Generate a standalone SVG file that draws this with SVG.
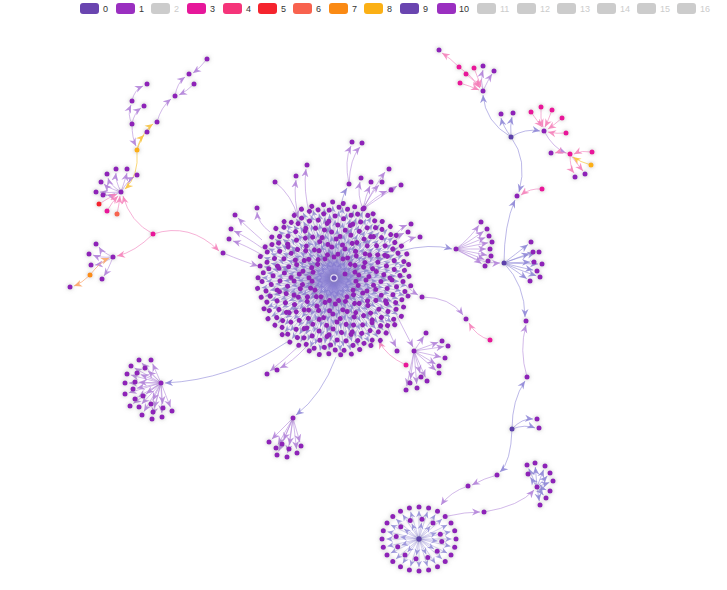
<svg xmlns="http://www.w3.org/2000/svg" xmlns:xlink="http://www.w3.org/1999/xlink" width="727" height="590" viewBox="0 0 727 590">
<style>
.e0{fill:none;stroke:#8f88d8;stroke-opacity:.6;stroke-width:1;marker-end:url(#a0)}
.e1{fill:none;stroke:#b48bdb;stroke-opacity:.6;stroke-width:1;marker-end:url(#a1)}
.ep{fill:none;stroke:#f290c4;stroke-opacity:.7;stroke-width:1;marker-end:url(#ap)}
.ey{fill:none;stroke:#f9cd55;stroke-opacity:.8;stroke-width:1;marker-end:url(#ay)}
.eo{fill:none;stroke:#fcb383;stroke-opacity:.8;stroke-width:1;marker-end:url(#ao)}
.es{fill:none;stroke:#8579d0;stroke-opacity:.5;stroke-width:.75;marker-end:url(#as)}
.nodes{filter:url(#glow)}
.n1{fill:#8e24b8}.n0{fill:#5d40aa}.n3{fill:#e8169a}.n5{fill:#f5222d}.n6{fill:#f7634e}.n7{fill:#fa8c16}.n8{fill:#fbaf17}
.lg text{font-family:"Liberation Sans",Arial,sans-serif;font-size:9px;fill:#333}
.lg text.off{fill:#ccc}
</style>
<defs>
<filter id="glow" x="-50%" y="-50%" width="200%" height="200%"><feDropShadow dx="0" dy="0" stdDeviation="2.2" flood-color="#8a8a8a" flood-opacity=".6"/></filter>
<marker id="a0" viewBox="-8 -4 9 8" refX="0" refY="0" markerWidth="9" markerHeight="8" orient="auto" markerUnits="userSpaceOnUse"><path d="M0,0L-8,-3.5L-5.5,0L-8,3.5Z" fill="#8c84d6" fill-opacity=".85"/></marker>
<marker id="a1" viewBox="-8 -4 9 8" refX="0" refY="0" markerWidth="9" markerHeight="8" orient="auto" markerUnits="userSpaceOnUse"><path d="M0,0L-8,-3.5L-5.5,0L-8,3.5Z" fill="#b07fd8" fill-opacity=".85"/></marker>
<marker id="ap" viewBox="-8 -4 9 8" refX="0" refY="0" markerWidth="9" markerHeight="8" orient="auto" markerUnits="userSpaceOnUse"><path d="M0,0L-8,-3.5L-5.5,0L-8,3.5Z" fill="#f47fb9" fill-opacity=".85"/></marker>
<marker id="ay" viewBox="-8 -4 9 8" refX="0" refY="0" markerWidth="9" markerHeight="8" orient="auto" markerUnits="userSpaceOnUse"><path d="M0,0L-8,-3.5L-5.5,0L-8,3.5Z" fill="#f8c441" fill-opacity=".9"/></marker>
<marker id="ao" viewBox="-8 -4 9 8" refX="0" refY="0" markerWidth="9" markerHeight="8" orient="auto" markerUnits="userSpaceOnUse"><path d="M0,0L-8,-3.5L-5.5,0L-8,3.5Z" fill="#fba86b" fill-opacity=".9"/></marker>
<marker id="as" viewBox="-7 -3.5 8 7" refX="0" refY="0" markerWidth="8" markerHeight="7" orient="auto" markerUnits="userSpaceOnUse"><path d="M0,0L-6.5,-2.9L-4.5,0L-6.5,2.9Z" fill="#8c84d6" fill-opacity=".8"/></marker>
<g id="wAe">
<path class="es" d="M0,0L17.9,1.9"/><path class="es" d="M0,0L28,1"/><path class="es" d="M0,0L35.6,5.7"/><path class="es" d="M0,0L42.9,2.3"/><path class="es" d="M0,0L49.3,8.7"/><path class="es" d="M0,0L54,0.9"/><path class="es" d="M0,0L58.5,7.2"/><path class="es" d="M0,0L65,2.3"/><path class="es" d="M0,0L66.9,11.8"/><path class="es" d="M0,0L72.7,6.4"/>
</g>
<g id="wBe">
<path class="es" d="M0,0L21,1.1"/><path class="es" d="M0,0L30.7,4.3"/><path class="es" d="M0,0L39,1.4"/><path class="es" d="M0,0L45.6,5.6"/><path class="es" d="M0,0L51.1,9.9"/><path class="es" d="M0,0L56.9,3"/><path class="es" d="M0,0L61.2,9.7"/><path class="es" d="M0,0L66.7,5.9"/><path class="es" d="M0,0L72,1.2"/><path class="es" d="M0,0L70,12.3"/>
</g>
<g id="wAn" class="n1">
<circle cx="21.9" cy="2.3" r="2.5"/><circle cx="32" cy="1.1" r="2.5"/><circle cx="39.5" cy="6.3" r="2.5"/><circle cx="46.9" cy="2.5" r="2.5"/><circle cx="53.2" cy="9.4" r="2.5"/><circle cx="58" cy="1" r="2.5"/><circle cx="62.5" cy="7.7" r="2.5"/><circle cx="69" cy="2.4" r="2.5"/><circle cx="70.9" cy="12.5" r="2.5"/><circle cx="76.7" cy="6.7" r="2.5"/>
</g>
<g id="wBn" class="n1">
<circle cx="25" cy="1.3" r="2.5"/><circle cx="34.7" cy="4.9" r="2.5"/><circle cx="43" cy="1.5" r="2.5"/><circle cx="49.6" cy="6.1" r="2.5"/><circle cx="55" cy="10.7" r="2.5"/><circle cx="60.9" cy="3.2" r="2.5"/><circle cx="65.2" cy="10.3" r="2.5"/><circle cx="70.7" cy="6.2" r="2.5"/><circle cx="76" cy="1.3" r="2.5"/><circle cx="73.9" cy="13" r="2.5"/>
</g>
</defs>

<rect width="727" height="590" fill="#ffffff"/>

<g id="legend" class="lg">
<rect x="80" y="3" width="19" height="11" rx="3" fill="#6a45b0"/><text x="103" y="12">0</text>
<rect x="116" y="3" width="19" height="11" rx="3" fill="#9a2fc0"/><text x="139" y="12">1</text>
<rect x="151" y="3" width="19" height="11" rx="3" fill="#cccccc"/><text class="off" x="174" y="12">2</text>
<rect x="187" y="3" width="19" height="11" rx="3" fill="#e6179a"/><text x="210" y="12">3</text>
<rect x="223" y="3" width="19" height="11" rx="3" fill="#f5347a"/><text x="246" y="12">4</text>
<rect x="258" y="3" width="19" height="11" rx="3" fill="#f5242e"/><text x="281" y="12">5</text>
<rect x="293" y="3" width="19" height="11" rx="3" fill="#f8624e"/><text x="316" y="12">6</text>
<rect x="329" y="3" width="19" height="11" rx="3" fill="#fa8a14"/><text x="352" y="12">7</text>
<rect x="364" y="3" width="19" height="11" rx="3" fill="#fbb015"/><text x="387" y="12">8</text>
<rect x="400" y="3" width="19" height="11" rx="3" fill="#6a45b0"/><text x="423" y="12">9</text>
<rect x="437" y="3" width="19" height="11" rx="3" fill="#9a2fc0"/><text x="459" y="12">10</text>
<rect x="477" y="3" width="19" height="11" rx="3" fill="#cccccc"/><text class="off" x="500" y="12">11</text>
<rect x="517" y="3" width="19" height="11" rx="3" fill="#cccccc"/><text class="off" x="540" y="12">12</text>
<rect x="557" y="3" width="19" height="11" rx="3" fill="#cccccc"/><text class="off" x="580" y="12">13</text>
<rect x="597" y="3" width="19" height="11" rx="3" fill="#cccccc"/><text class="off" x="620" y="12">14</text>
<rect x="637" y="3" width="19" height="11" rx="3" fill="#cccccc"/><text class="off" x="660" y="12">15</text>
<rect x="677" y="3" width="19" height="11" rx="3" fill="#cccccc"/><text class="off" x="700" y="12">16</text>
</g>

<g id="connectors">
<g transform="translate(334,279)">
<use href="#wAe"/><use href="#wAe" transform="rotate(24)"/><use href="#wAe" transform="rotate(48)"/><use href="#wAe" transform="rotate(72)"/><use href="#wAe" transform="rotate(96)"/><use href="#wAe" transform="rotate(120)"/><use href="#wAe" transform="rotate(144)"/><use href="#wAe" transform="rotate(168)"/><use href="#wAe" transform="rotate(192)"/><use href="#wAe" transform="rotate(216)"/><use href="#wAe" transform="rotate(240)"/><use href="#wAe" transform="rotate(264)"/><use href="#wAe" transform="rotate(288)"/><use href="#wAe" transform="rotate(312)"/><use href="#wAe" transform="rotate(336)"/>
<use href="#wBe" transform="rotate(12)"/><use href="#wBe" transform="rotate(36)"/><use href="#wBe" transform="rotate(60)"/><use href="#wBe" transform="rotate(84)"/><use href="#wBe" transform="rotate(108)"/><use href="#wBe" transform="rotate(132)"/><use href="#wBe" transform="rotate(156)"/><use href="#wBe" transform="rotate(180)"/><use href="#wBe" transform="rotate(204)"/><use href="#wBe" transform="rotate(228)"/><use href="#wBe" transform="rotate(252)"/><use href="#wBe" transform="rotate(276)"/><use href="#wBe" transform="rotate(300)"/><use href="#wBe" transform="rotate(324)"/><use href="#wBe" transform="rotate(348)"/>
</g>
<path class="e1" d="M207,59 Q200,68 193,73"/>
<path class="e1" d="M175,96 Q177,83 185,77"/>
<path class="e1" d="M194,84 Q187,91 179,95"/>
<path class="e1" d="M157,122 Q161,107 171,99"/>
<path class="e1" d="M132,101 Q134,90 143,86"/>
<path class="e1" d="M132,124 Q127,114 131,105"/>
<path class="e1" d="M132,124 Q134,113 141,108"/>
<path class="ey" d="M137,150 Q143,131 153,124"/>
<path class="e1" d="M132,124 Q132,138 136,146"/>
<path class="ey" d="M137,150 Q139,140 144,135"/>
<path class="ey" d="M137,151 Q139,176 125,189"/>
<path class="e1" d="M121,192 Q110,185 108,178"/>
<path class="e1" d="M121,192 Q115,180 116,173"/>
<path class="e1" d="M121,192 Q125,180 127,173"/>
<path class="e1" d="M121,192 Q108,188 104,184"/>
<path class="e1" d="M121,192 Q108,193 100,192"/>
<path class="e1" d="M121,192 Q112,196 107,195"/>
<path class="e1" d="M121,192 Q128,180 134,177"/>
<path class="ep" d="M99,204 Q108,198 117,194"/>
<path class="ep" d="M107,211 Q112,202 118,196"/>
<path class="ep" d="M117,214 Q119,205 120,196"/>
<path class="ep" d="M153,234 Q130,222 123,196"/>
<path class="ep" d="M153,234 Q190,222 219,251"/>
<path class="e1" d="M223,253 Q245,262 258,266"/>
<path class="ep" d="M153,234 Q135,252 117,256"/>
<path class="e1" d="M113,257 Q102,252 99,247"/>
<path class="e1" d="M113,257 Q100,258 93,255"/>
<path class="e1" d="M113,257 Q102,264 95,265"/>
<path class="e1" d="M113,257 Q108,270 104,276"/>
<path class="eo" d="M90,275 Q100,262 109,258"/>
<path class="eo" d="M90,275 Q82,283 74,286"/>
<path class="e0" d="M287,342 Q230,380 165,383"/>
<path class="e1" d="M161,383L141.8,362.9"/><path class="e1" d="M161,383L152.6,363.7"/><path class="e1" d="M161,383L134.5,368"/><path class="e1" d="M161,383L147.9,370.7"/><path class="e1" d="M161,383L130.9,375"/><path class="e1" d="M161,383L140.7,374.5"/><path class="e1" d="M161,383L129,383"/><path class="e1" d="M161,383L139,382.2"/><path class="e1" d="M161,383L136.9,388.2"/><path class="e1" d="M161,383L128.8,392.8"/><path class="e1" d="M161,383L146.2,393.7"/><path class="e1" d="M161,383L138.4,396.9"/><path class="e1" d="M161,383L133.2,403.6"/><path class="e1" d="M161,383L152.7,400.4"/><path class="e1" d="M161,383L141.7,404.1"/><path class="e1" d="M161,383L162.7,404"/><path class="e1" d="M161,383L170.5,407.3"/><path class="e1" d="M161,383L144,411.6"/><path class="e1" d="M161,383L154.1,408.1"/><path class="e1" d="M161,383L161.9,413"/><path class="e1" d="M161,383L153,415.1"/>
<path class="e1" d="M300,345 Q284,360 270,371"/>
<path class="e1" d="M306,347 Q292,362 280,368"/>
<path class="e0" d="M336,357 Q322,395 296,415"/>
<path class="e1" d="M293,418L271.8,439.2"/><path class="e1" d="M293,418L278,444.5"/><path class="e1" d="M293,418L283.6,440.3"/><path class="e1" d="M293,418L278.6,451.3"/><path class="e1" d="M293,418L287.6,453"/><path class="e1" d="M293,418L289.5,445"/><path class="e1" d="M293,418L296.5,449"/><path class="e1" d="M293,418L299.9,442.2"/>
<path class="e1" d="M275,182 Q292,195 298,218"/>
<path class="e1" d="M300,222 Q293,200 296,180"/>
<path class="e1" d="M310,216 Q303,190 306,169"/>
<path class="e1" d="M270,232 Q258,223 257,212"/>
<path class="e1" d="M262,240 Q246,226 238,218"/>
<path class="e1" d="M262,248 Q245,236 234,231"/>
<path class="e1" d="M264,256 Q245,245 233,241"/>
<path class="e0" d="M340,212 Q342,196 347,188"/>
<path class="e1" d="M349,184 Q344,160 351,146"/>
<path class="e1" d="M349,184 Q350,158 360,147"/>
<path class="e1" d="M363,209 Q357,195 360,182"/>
<path class="e1" d="M363,209 Q366,195 370,186"/>
<path class="e1" d="M363,209 Q372,192 379,185"/>
<path class="e1" d="M363,209 Q376,184 385,172"/>
<path class="e1" d="M363,209 Q376,196 387,191"/>
<path class="e1" d="M363,209 Q385,194 397,186"/>
<path class="e1" d="M393,238 Q400,228 407,225"/>
<path class="e1" d="M392,245 Q398,236 404,233"/>
<path class="e1" d="M395,250 Q406,240 416,237"/>
<path class="e0" d="M400,251 Q430,243 452,249"/>
<path class="e1" d="M456,249 Q470,238.2 478.8,225.3"/>
<path class="e1" d="M456,249 Q470,241 483.7,231.3"/>
<path class="e1" d="M456,249 Q470,243.8 485.3,237.5"/>
<path class="e1" d="M456,249 Q470,246.2 488.1,242.8"/>
<path class="e1" d="M456,249 Q470,249 486,249"/>
<path class="e1" d="M456,249 Q470,251.8 487.1,255.2"/>
<path class="e1" d="M456,249 Q470,253.8 484.3,259.5"/>
<path class="e1" d="M456,249 Q470,255.8 481.7,263.7"/>
<path class="e1" d="M457,250 Q480,264 500,263"/>
<path class="e0" d="M504,263 Q515,254.6 527.9,244.5"/>
<path class="e0" d="M504,263 Q515,258.6 535.1,253.1"/>
<path class="e0" d="M504,263 Q515,258.6 529.3,253.4"/>
<path class="e0" d="M504,263 Q515,262.6 530,262.1"/>
<path class="e0" d="M504,263 Q515,263.4 538,264"/>
<path class="e0" d="M504,263 Q515,266.2 533.1,270.1"/>
<path class="e0" d="M504,263 Q515,268.6 536.2,275.7"/>
<path class="e0" d="M504,263 Q515,270.2 526.8,278.7"/>
<path class="e0" d="M504,263 Q504,225 515,200"/>
<path class="ep" d="M542,189 Q530,188 521,195"/>
<path class="e0" d="M511,137 Q528,160 519,192"/>
<path class="e0" d="M504,263 Q525,285 525,317"/>
<path class="e1" d="M527,377 Q519,350 526,325"/>
<path class="e0" d="M512,429 Q512,400 525,381"/>
<path class="e0" d="M512,429 Q522,418 533,419"/>
<path class="e0" d="M512,429 Q525,424 535,428"/>
<path class="e0" d="M512,429 Q511,462 500,472"/>
<path class="e1" d="M497,475 Q485,478 472,485"/>
<path class="e1" d="M468,486 Q450,492 441,505"/>
<path class="e1" d="M448,516 Q465,512 480,512"/>
<path class="e1" d="M484,512 Q520,506 534,490"/>
<path class="e0" d="M537,487L528.7,468.6"/><path class="e0" d="M537,487L535.3,467"/><path class="e0" d="M537,487L543.6,469.7"/><path class="e0" d="M537,487L547.3,475.9"/><path class="e0" d="M537,487L549.3,482.4"/><path class="e0" d="M537,487L546.2,489.8"/><path class="e0" d="M537,487L543.5,495.2"/><path class="e0" d="M537,487L539.3,501.1"/><path class="e0" d="M537,487L530.3,477.3"/>
<path class="e1" d="M405,285 Q413,292 418,295"/>
<path class="e1" d="M422,297 Q450,297 463,315"/>
<path class="ep" d="M490,340 Q476,336 469,323"/>
<path class="e1" d="M385,318 Q389,333 396,347"/>
<path class="e1" d="M395,312 Q404,330 413,347"/>
<path class="ep" d="M406,365 Q386,356 379,341"/>
<path class="e1" d="M414,351L423.8,336.3"/><path class="e1" d="M414,351L438.2,342.3"/><path class="e1" d="M414,351L444,346.6"/><path class="e1" d="M414,351L441.1,357.1"/><path class="e1" d="M414,351L435.6,364"/><path class="e1" d="M414,351L436,370.4"/><path class="e1" d="M414,351L425.4,377.3"/><path class="e1" d="M414,351L420,373.1"/><path class="e1" d="M414,351L416.7,384"/><path class="e1" d="M414,351L410.5,379"/><path class="e1" d="M414,351L406.8,386.1"/>
<path class="ep" d="M459,67 Q450,58 442,53"/>
<path class="ep" d="M459,67 Q472,76 480,87"/>
<path class="ep" d="M466,74 Q474,80 480,88"/>
<path class="ep" d="M474,68 Q478,78 481,87"/>
<path class="ep" d="M460,83 Q470,86 479,90"/>
<path class="e1" d="M483,91 Q480,80 483,70"/>
<path class="e1" d="M483,91 Q488,80 492,74"/>
<path class="e0" d="M511,137 Q485,122 483,95"/>
<path class="e0" d="M511,137 Q503,126 501,118"/>
<path class="e0" d="M511,137 Q510,125 512,117"/>
<path class="e0" d="M511,137 Q525,128 540,131"/>
<path class="ep" d="M531,112 Q538,122 542,127"/>
<path class="ep" d="M541,107 Q540,119 543,127"/>
<path class="ep" d="M552,110 Q548,121 545,127"/>
<path class="ep" d="M562,118 Q554,125 548,129"/>
<path class="ep" d="M566,133 Q557,134 548,132"/>
<path class="e1" d="M544,131 Q553,148 566,153"/>
<path class="ep" d="M592,152 Q582,150 574,154"/>
<path class="ey" d="M591,165 Q580,162 573,157"/>
<path class="ep" d="M570,154 Q561,151 555,153"/>
<path class="ep" d="M570,154 Q570,168 574,173"/>
<path class="ep" d="M570,154 Q578,165 583,171"/>
<path class="es" d="M419,539L451.6,539"/><path class="es" d="M419,539L450.5,546.3"/><path class="es" d="M419,539L447.2,553.1"/><path class="es" d="M419,539L442,558.9"/><path class="es" d="M419,539L435.3,563.4"/><path class="es" d="M419,539L427.4,566.2"/><path class="es" d="M419,539L419,567.2"/><path class="es" d="M419,539L410.6,566.2"/><path class="es" d="M419,539L402.7,563.4"/><path class="es" d="M419,539L396,558.9"/><path class="es" d="M419,539L390.8,553.1"/><path class="es" d="M419,539L387.5,546.3"/><path class="es" d="M419,539L386.4,539"/><path class="es" d="M419,539L387.5,531.7"/><path class="es" d="M419,539L390.8,524.9"/><path class="es" d="M419,539L396,519.1"/><path class="es" d="M419,539L402.7,514.6"/><path class="es" d="M419,539L410.6,511.8"/><path class="es" d="M419,539L419,510.8"/><path class="es" d="M419,539L427.4,511.8"/><path class="es" d="M419,539L435.3,514.6"/><path class="es" d="M419,539L442,519.1"/><path class="es" d="M419,539L447.2,524.9"/><path class="es" d="M419,539L450.5,531.7"/>
<path class="es" d="M419,539L437.7,541.1"/><path class="es" d="M419,539L434,549"/><path class="es" d="M419,539L426.2,554.2"/><path class="es" d="M419,539L416.5,555.3"/><path class="es" d="M419,539L407.5,552"/><path class="es" d="M419,539L401.5,545.3"/><path class="es" d="M419,539L400.3,536.9"/><path class="es" d="M419,539L404,529"/><path class="es" d="M419,539L411.8,523.8"/><path class="es" d="M419,539L421.5,522.7"/><path class="es" d="M419,539L430.5,526"/><path class="es" d="M419,539L436.5,532.7"/>
</g>

<g class="nodes">
<g id="node-main-cluster" transform="translate(334,279)">
<use href="#wAn"/><use href="#wAn" transform="rotate(24)"/><use href="#wAn" transform="rotate(48)"/><use href="#wAn" transform="rotate(72)"/><use href="#wAn" transform="rotate(96)"/><use href="#wAn" transform="rotate(120)"/><use href="#wAn" transform="rotate(144)"/><use href="#wAn" transform="rotate(168)"/><use href="#wAn" transform="rotate(192)"/><use href="#wAn" transform="rotate(216)"/><use href="#wAn" transform="rotate(240)"/><use href="#wAn" transform="rotate(264)"/><use href="#wAn" transform="rotate(288)"/><use href="#wAn" transform="rotate(312)"/><use href="#wAn" transform="rotate(336)"/>
<use href="#wBn" transform="rotate(12)"/><use href="#wBn" transform="rotate(36)"/><use href="#wBn" transform="rotate(60)"/><use href="#wBn" transform="rotate(84)"/><use href="#wBn" transform="rotate(108)"/><use href="#wBn" transform="rotate(132)"/><use href="#wBn" transform="rotate(156)"/><use href="#wBn" transform="rotate(180)"/><use href="#wBn" transform="rotate(204)"/><use href="#wBn" transform="rotate(228)"/><use href="#wBn" transform="rotate(252)"/><use href="#wBn" transform="rotate(276)"/><use href="#wBn" transform="rotate(300)"/><use href="#wBn" transform="rotate(324)"/><use href="#wBn" transform="rotate(348)"/>
<circle class="n1" cx="11" cy="-5" r="2.5"/>
<circle cx="0" cy="-1" r="3.2" fill="#6a4bb5" stroke="#e2dcf5" stroke-width="1.2"/>
</g>
<g id="node-main-outliers" class="n1">
<circle cx="275" cy="182" r="2.5"/><circle cx="296" cy="176" r="2.5"/><circle cx="307" cy="165" r="2.5"/><circle cx="257" cy="208" r="2.5"/><circle cx="235" cy="215" r="2.5"/><circle cx="231" cy="229" r="2.5"/><circle cx="229" cy="239" r="2.5"/>
<circle cx="349" cy="184" r="2.5"/><circle cx="352" cy="142" r="2.5"/><circle cx="362" cy="143" r="2.5"/>
<circle cx="363" cy="209" r="2.5"/><circle cx="361" cy="178" r="2.5"/><circle cx="371" cy="182" r="2.5"/><circle cx="382" cy="182" r="2.5"/><circle cx="389" cy="169" r="2.5"/><circle cx="391" cy="190" r="2.5"/><circle cx="401" cy="185" r="2.5"/>
<circle cx="411" cy="224" r="2.5"/><circle cx="408" cy="232" r="2.5"/><circle cx="420" cy="237" r="2.5"/>
<circle cx="267" cy="374" r="2.5"/><circle cx="277" cy="370" r="2.5"/>
<circle cx="422" cy="297" r="2.5"/><circle cx="466" cy="319" r="2.5"/>
<circle cx="397" cy="351" r="2.5"/>
</g>
<g id="node-pink-right" class="n3"><circle cx="490" cy="340" r="2.5"/><circle cx="406" cy="365" r="2.5"/></g>
<g id="node-fan-b" class="n1">
<circle cx="414" cy="351" r="2.5"/><circle cx="426" cy="333" r="2.5"/><circle cx="442" cy="341" r="2.5"/><circle cx="448" cy="346" r="2.5"/><circle cx="445" cy="358" r="2.5"/><circle cx="439" cy="366" r="2.5"/><circle cx="439" cy="373" r="2.5"/><circle cx="427" cy="381" r="2.5"/><circle cx="421" cy="377" r="2.5"/><circle cx="417" cy="388" r="2.5"/><circle cx="410" cy="383" r="2.5"/><circle cx="406" cy="390" r="2.5"/>
</g>
<g id="node-top-left" class="n1">
<circle cx="207" cy="59" r="2.5"/><circle cx="189" cy="74" r="2.5"/><circle cx="194" cy="84" r="2.5"/><circle cx="175" cy="96" r="2.5"/><circle cx="157" cy="122" r="2.5"/><circle cx="147" cy="84" r="2.5"/><circle cx="132" cy="101" r="2.5"/><circle cx="144" cy="106" r="2.5"/><circle cx="132" cy="124" r="2.5"/><circle cx="147" cy="132" r="2.5"/>
<circle class="n8" cx="137" cy="150" r="2.5"/>
</g>
<g id="node-left-cluster" class="n1">
<circle cx="121" cy="192" r="2.5"/><circle cx="107" cy="174" r="2.5"/><circle cx="116" cy="169" r="2.5"/><circle cx="127" cy="169" r="2.5"/><circle cx="101" cy="182" r="2.5"/><circle cx="96" cy="192" r="2.5"/><circle cx="103" cy="195" r="2.5"/><circle cx="137" cy="175" r="2.5"/>
<circle class="n5" cx="99" cy="204" r="2.5"/><circle class="n3" cx="107" cy="211" r="2.5"/><circle class="n6" cx="117" cy="214" r="2.5"/>
<circle class="n3" cx="153" cy="234" r="2.5"/><circle cx="223" cy="253" r="2.5"/>
</g>
<g id="node-left-small" class="n1">
<circle cx="113" cy="257" r="2.5"/><circle cx="96" cy="244" r="2.5"/><circle cx="89" cy="254" r="2.5"/><circle cx="91" cy="265" r="2.5"/><circle cx="102" cy="279" r="2.5"/><circle class="n7" cx="90" cy="275" r="2.5"/><circle cx="70" cy="287" r="2.5"/>
</g>
<g id="node-left-bottom" class="n1">
<circle cx="161" cy="383" r="2.5"/>
<circle cx="139" cy="360" r="2.5"/><circle cx="151" cy="360" r="2.5"/><circle cx="131" cy="366" r="2.5"/><circle cx="145" cy="368" r="2.5"/><circle cx="127" cy="374" r="2.5"/><circle cx="137" cy="373" r="2.5"/><circle cx="125" cy="383" r="2.5"/><circle cx="135" cy="382" r="2.5"/><circle cx="133" cy="389" r="2.5"/><circle cx="125" cy="394" r="2.5"/><circle cx="143" cy="396" r="2.5"/><circle cx="135" cy="399" r="2.5"/><circle cx="130" cy="406" r="2.5"/><circle cx="151" cy="404" r="2.5"/><circle cx="139" cy="407" r="2.5"/><circle cx="163" cy="408" r="2.5"/><circle cx="172" cy="411" r="2.5"/><circle cx="142" cy="415" r="2.5"/><circle cx="153" cy="412" r="2.5"/><circle cx="162" cy="417" r="2.5"/><circle cx="152" cy="419" r="2.5"/>
</g>
<g id="node-bottom-fan" class="n1">
<circle cx="293" cy="418" r="2.5"/><circle cx="269" cy="442" r="2.5"/><circle cx="276" cy="448" r="2.5"/><circle cx="282" cy="444" r="2.5"/><circle cx="277" cy="455" r="2.5"/><circle cx="287" cy="457" r="2.5"/><circle cx="289" cy="449" r="2.5"/><circle cx="297" cy="453" r="2.5"/><circle cx="301" cy="446" r="2.5"/>
</g>
<g id="node-right-h1" class="n1">
<circle cx="456" cy="249" r="2.5"/><circle cx="481" cy="222" r="2.5"/><circle cx="487" cy="229" r="2.5"/><circle cx="489" cy="236" r="2.5"/><circle cx="492" cy="242" r="2.5"/><circle cx="490" cy="249" r="2.5"/><circle cx="491" cy="256" r="2.5"/><circle cx="488" cy="261" r="2.5"/><circle cx="485" cy="266" r="2.5"/>
</g>
<g id="node-right-h2" class="n1">
<circle class="n0" cx="504" cy="263" r="2.5"/><circle cx="531" cy="242" r="2.5"/><circle cx="539" cy="252" r="2.5"/><circle cx="533" cy="252" r="2.5"/><circle cx="534" cy="262" r="2.5"/><circle cx="542" cy="264" r="2.5"/><circle cx="537" cy="271" r="2.5"/><circle cx="540" cy="277" r="2.5"/><circle cx="530" cy="281" r="2.5"/>
<circle cx="517" cy="196" r="2.5"/><circle class="n3" cx="542" cy="189" r="2.5"/>
<circle cx="526" cy="321" r="2.5"/><circle cx="527" cy="377" r="2.5"/><circle class="n0" cx="512" cy="429" r="2.5"/><circle cx="537" cy="419" r="2.5"/><circle cx="539" cy="428" r="2.5"/>
<circle cx="497" cy="475" r="2.5"/><circle cx="468" cy="486" r="2.5"/><circle cx="484" cy="512" r="2.5"/>
</g>
<g id="node-small-cluster" class="n1">
<circle cx="537" cy="487" r="2.5"/><circle cx="527" cy="465" r="2.5"/><circle cx="535" cy="463" r="2.5"/><circle cx="545" cy="466" r="2.5"/><circle cx="550" cy="473" r="2.5"/><circle cx="553" cy="481" r="2.5"/><circle cx="550" cy="491" r="2.5"/><circle cx="546" cy="498" r="2.5"/><circle cx="540" cy="505" r="2.5"/><circle cx="528" cy="474" r="2.5"/>
</g>
<g id="node-top-right" class="n3">
<circle class="n1" cx="439" cy="50" r="2.5"/><circle cx="459" cy="67" r="2.5"/><circle cx="466" cy="74" r="2.5"/><circle cx="474" cy="68" r="2.5"/><circle cx="460" cy="83" r="2.5"/>
<circle class="n1" cx="483" cy="66" r="2.5"/><circle class="n1" cx="494" cy="71" r="2.5"/><circle class="n1" cx="483" cy="91" r="2.5"/>
<circle class="n0" cx="511" cy="137" r="2.5"/><circle class="n1" cx="501" cy="114" r="2.5"/><circle class="n1" cx="513" cy="113" r="2.5"/>
<circle class="n1" cx="544" cy="131" r="2.5"/><circle cx="531" cy="112" r="2.5"/><circle cx="541" cy="107" r="2.5"/><circle cx="552" cy="110" r="2.5"/><circle cx="562" cy="118" r="2.5"/><circle cx="566" cy="133" r="2.5"/>
<circle cx="570" cy="154" r="2.5"/><circle cx="592" cy="152" r="2.5"/><circle class="n1" cx="551" cy="153" r="2.5"/><circle class="n8" cx="591" cy="165" r="2.5"/><circle class="n1" cx="575" cy="177" r="2.5"/><circle class="n1" cx="585" cy="174" r="2.5"/>
</g>
<g id="node-bottom-cluster" class="n1">
<circle cx="456" cy="539" r="2.5"/><circle cx="454.7" cy="547.3" r="2.5"/><circle cx="451" cy="555" r="2.5"/><circle cx="445.2" cy="561.6" r="2.5"/><circle cx="437.5" cy="566.7" r="2.5"/><circle cx="428.6" cy="569.9" r="2.5"/><circle cx="419" cy="571" r="2.5"/><circle cx="409.4" cy="569.9" r="2.5"/><circle cx="400.5" cy="566.7" r="2.5"/><circle cx="392.8" cy="561.6" r="2.5"/><circle cx="387" cy="555" r="2.5"/><circle cx="383.3" cy="547.3" r="2.5"/><circle cx="382" cy="539" r="2.5"/><circle cx="383.3" cy="530.7" r="2.5"/><circle cx="387" cy="523" r="2.5"/><circle cx="392.8" cy="516.4" r="2.5"/><circle cx="400.5" cy="511.3" r="2.5"/><circle cx="409.4" cy="508.1" r="2.5"/><circle cx="419" cy="507" r="2.5"/><circle cx="428.6" cy="508.1" r="2.5"/><circle cx="437.5" cy="511.3" r="2.5"/><circle cx="445.2" cy="516.4" r="2.5"/><circle cx="451" cy="523" r="2.5"/><circle cx="454.7" cy="530.7" r="2.5"/>
<circle cx="441.8" cy="541.6" r="2.5"/><circle cx="437.2" cy="551.2" r="2.5"/><circle cx="427.8" cy="557.5" r="2.5"/><circle cx="416" cy="558.8" r="2.5"/><circle cx="405" cy="554.9" r="2.5"/><circle cx="397.7" cy="546.7" r="2.5"/><circle cx="396.2" cy="536.4" r="2.5"/><circle cx="400.8" cy="526.8" r="2.5"/><circle cx="410.2" cy="520.5" r="2.5"/><circle cx="422" cy="519.2" r="2.5"/><circle cx="433" cy="523.1" r="2.5"/><circle cx="440.3" cy="534.3" r="2.5"/>
<circle class="n0" cx="419" cy="539" r="2.7"/>
</g>
</g>
</svg>
